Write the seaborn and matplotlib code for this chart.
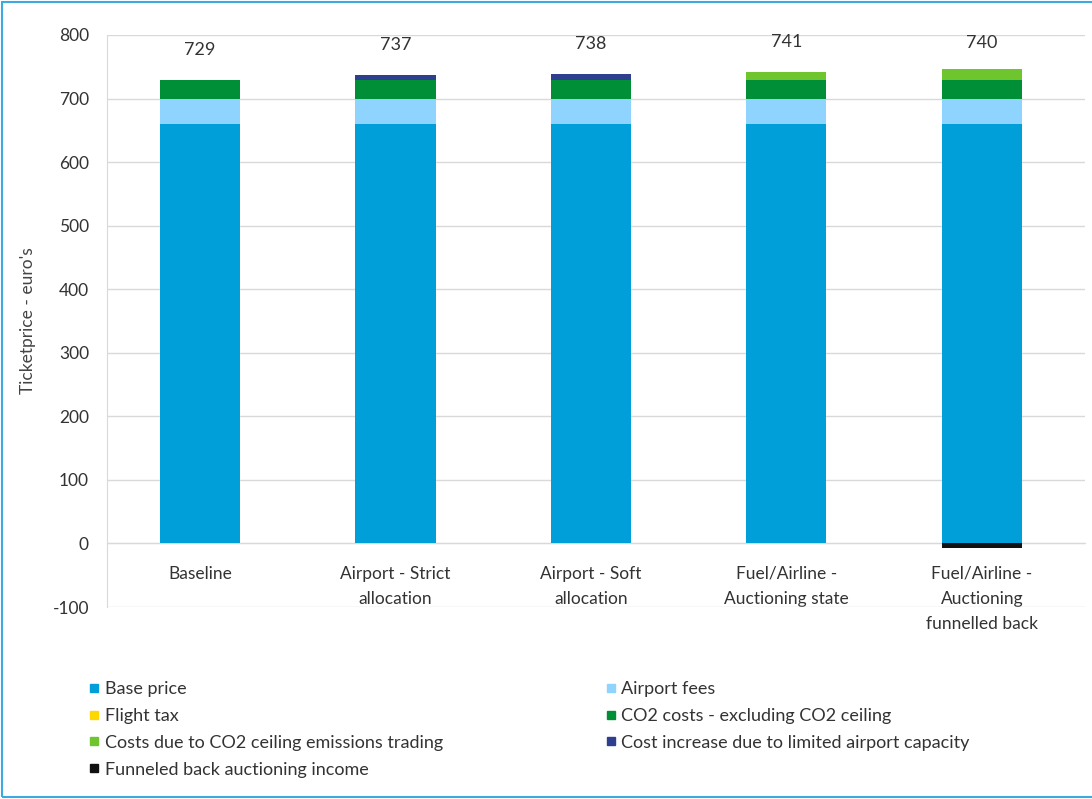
import numpy as np
import pandas as pd
import matplotlib
matplotlib.use("Agg")
import matplotlib.pyplot as plt
from matplotlib.lines import Line2D
from matplotlib.patches import Rectangle
import seaborn as sns

categories = ["Baseline", "Airport - Strict\nallocation", "Airport - Soft\nallocation",
              "Fuel/Airline -\nAuctioning state", "Fuel/Airline -\nAuctioning\nfunnelled back"]
base_price = [660, 660, 660, 660, 660]
airport_fees = [40, 40, 40, 40, 40]
flight_tax = [0, 0, 0, 0, 0]
co2_costs = [29, 29, 29, 29, 29]
ceiling_costs = [0, 0, 0, 12, 18]
capacity_costs = [0, 8, 9, 0, 0]
funneled_back = [0, 0, 0, 0, -7]
totals = [729, 737, 738, 741, 740]

series_names = ["Base price", "Airport fees", "Flight tax", "CO2 costs - excluding CO2 ceiling",
                "Costs due to CO2 ceiling emissions trading",
                "Cost increase due to limited airport capacity", "Funneled back auctioning income"]
colors = ["#009FDA", "#8FD3FF", "#FFD700", "#008F36", "#6FC52E", "#2E3F8F", "#111111"]

sns.set_style("white")
plt.rcParams['font.family'] = ['Lato', 'DejaVu Sans']
plt.rcParams['axes.unicode_minus'] = False

fig = plt.figure(figsize=(10.92, 7.99), dpi=100)
ax = fig.add_axes([0.098, 0.2403, 0.896, 0.7159])

positive = [base_price, airport_fees, flight_tax, co2_costs, ceiling_costs, capacity_costs]
cum = np.cumsum(np.array(positive, dtype=float), axis=0)
for i in range(len(positive) - 1, -1, -1):
    df = pd.DataFrame({"cat": categories, "val": cum[i]})
    sns.barplot(data=df, x="cat", y="val", color=colors[i], width=0.41, ax=ax,
                saturation=1, linewidth=0, zorder=3)
df_neg = pd.DataFrame({"cat": categories, "val": funneled_back})
sns.barplot(data=df_neg, x="cat", y="val", color=colors[6], width=0.41, ax=ax,
            saturation=1, linewidth=0, zorder=3)

for i, t in enumerate(totals):
    ax.text(i, t + 48, str(t), ha="center", va="center", fontsize=13, color="#333333")

ax.set_ylim(-100, 800)
ax.set_xlim(-0.476, 4.53)
ax.set_yticks(np.arange(-100, 801, 100))
ax.yaxis.grid(True, color="#D9D9D9", linewidth=1, zorder=0)
ax.set_axisbelow(True)
ax.tick_params(axis="y", length=0, labelsize=12.5, pad=13, labelcolor="#333333")
ax.tick_params(axis="x", length=0, labelsize=12.5, pad=16, labelcolor="#333333")
for s in ["top", "right"]:
    ax.spines[s].set_visible(False)
ax.spines["left"].set_color("#D9D9D9")
ax.spines["bottom"].set_color("#D9D9D9")
ax.spines["bottom"].set_position(("data", 0))
ax.set_xlabel("")
ax.set_ylabel("Ticketprice - euro's", fontsize=12.5, color="#444444", labelpad=12)
for lbl in ax.get_xticklabels():
    lbl.set_va("top")
    lbl.set_linespacing(1.7)

order = [0, 2, 4, 6, 1, 3, 5]
handles = [Line2D([0], [0], marker="s", color="none", markerfacecolor=colors[k],
                  markeredgecolor=colors[k], markersize=6) for k in order]
labels = [series_names[k] for k in order]
fig.legend(handles, labels, loc="upper left", bbox_to_anchor=(0.066, 0.168), ncol=2,
           frameon=False, fontsize=13, handlelength=0.6, handletextpad=0.3,
           columnspacing=9.0, labelspacing=0.6, labelcolor="#333333")

fig.patches.append(Rectangle((0.002, 0.002), 1.1, 0.995, transform=fig.transFigure,
                             fill=False, edgecolor="#3FA9DF", linewidth=1.5))

fig.savefig("out.png", dpi=100)
